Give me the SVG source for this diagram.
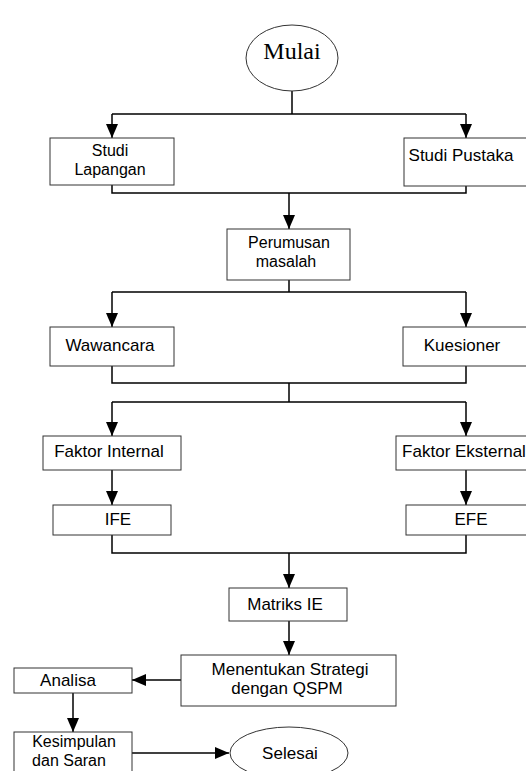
<svg xmlns="http://www.w3.org/2000/svg" width="526" height="771" viewBox="0 0 526 771">
<style>
.box{fill:#fff;stroke:#333;stroke-width:1}
.t{font-family:"Liberation Sans",Arial,sans-serif;font-size:17px;fill:#000;text-anchor:middle}
.t2{font-size:16px}
.c{fill:none;stroke:#000;stroke-width:1.5}
</style>
<defs>
<marker id="arr" viewBox="0 0 14 12" refX="14" refY="6" markerWidth="14" markerHeight="12" markerUnits="userSpaceOnUse" orient="auto"><path d="M0,0 L14,6 L0,12 z" fill="#000"/></marker>
</defs>
<rect width="526" height="771" fill="#fff"/>
<g id="connectors">
<path class="c" d="M292,91 V114 M112,114 H466"/>
<path class="c" d="M112,114 V138" marker-end="url(#arr)"/>
<path class="c" d="M466,114 V138" marker-end="url(#arr)"/>
<path class="c" d="M112,185 V193 H466 V185"/>
<path class="c" d="M289,193 V229" marker-end="url(#arr)"/>
<path class="c" d="M289,280 V292 M112,292 H466"/>
<path class="c" d="M112,292 V327" marker-end="url(#arr)"/>
<path class="c" d="M466,292 V327" marker-end="url(#arr)"/>
<path class="c" d="M112,366 V383 H466 V366 M289,383 V402 M112,402 H466"/>
<path class="c" d="M112,402 V436" marker-end="url(#arr)"/>
<path class="c" d="M466,402 V436" marker-end="url(#arr)"/>
<path class="c" d="M112,470 V505" marker-end="url(#arr)"/>
<path class="c" d="M466,470 V505" marker-end="url(#arr)"/>
<path class="c" d="M112,535 V553 H466 V535"/>
<path class="c" d="M289,553 V588" marker-end="url(#arr)"/>
<path class="c" d="M289,621 V655" marker-end="url(#arr)"/>
<path class="c" d="M181,680 H132" marker-end="url(#arr)"/>
<path class="c" d="M73,693 V732" marker-end="url(#arr)"/>
<path class="c" d="M132,753 H229" marker-end="url(#arr)"/>
</g>
<g id="mulai">
<ellipse class="box" cx="292" cy="58" rx="46" ry="33"/>
<text x="292" y="59" font-family="'Liberation Serif','Times New Roman',serif" font-size="24" text-anchor="middle">Mulai</text>
</g>
<g id="studi-lapangan">
<rect class="box" x="50" y="138" width="124" height="47"/>
<text class="t t2" x="110" y="156">Studi</text>
<text class="t t2" x="110" y="175">Lapangan</text>
</g>
<g id="studi-pustaka">
<rect class="box" x="404" y="138" width="130" height="48"/>
<text class="t" x="461" y="161">Studi Pustaka</text>
</g>
<g id="perumusan">
<rect class="box" x="227" y="229" width="123" height="51"/>
<text class="t t2" x="289" y="248">Perumusan</text>
<text class="t t2" x="286" y="267">masalah</text>
</g>
<g id="wawancara">
<rect class="box" x="50" y="327" width="124" height="39"/>
<text class="t" x="110" y="351">Wawancara</text>
</g>
<g id="kuesioner">
<rect class="box" x="403" y="327" width="130" height="39"/>
<text class="t" x="462" y="351">Kuesioner</text>
</g>
<g id="faktor-internal">
<rect class="box" x="43" y="436" width="138" height="34"/>
<text class="t" x="109" y="457">Faktor Internal</text>
</g>
<g id="faktor-eksternal">
<rect class="box" x="396" y="436" width="140" height="34"/>
<text class="t" x="464" y="457">Faktor Eksternal</text>
</g>
<g id="ife">
<rect class="box" x="53" y="505" width="118" height="30"/>
<text class="t" x="118" y="525">IFE</text>
</g>
<g id="efe">
<rect class="box" x="406" y="505" width="130" height="30"/>
<text class="t" x="471" y="525">EFE</text>
</g>
<g id="matriks-ie">
<rect class="box" x="229" y="588" width="118" height="33"/>
<text class="t" x="285" y="610">Matriks IE</text>
</g>
<g id="menentukan">
<rect class="box" x="181" y="655" width="215" height="51"/>
<text class="t" x="290" y="675" font-size="15.5">Menentukan Strategi</text>
<text class="t" x="287" y="694" font-size="15.5">dengan QSPM</text>
</g>
<g id="analisa">
<rect class="box" x="14" y="668" width="118" height="25"/>
<text class="t" x="68" y="686">Analisa</text>
</g>
<g id="kesimpulan">
<rect class="box" x="14" y="732" width="118" height="50"/>
<text class="t t2" x="74" y="747">Kesimpulan</text>
<text class="t t2" x="69" y="766">dan Saran</text>
</g>
<g id="selesai">
<ellipse class="box" cx="289" cy="753" rx="59" ry="26"/>
<text class="t" x="290" y="759">Selesai</text>
</g>
</svg>
